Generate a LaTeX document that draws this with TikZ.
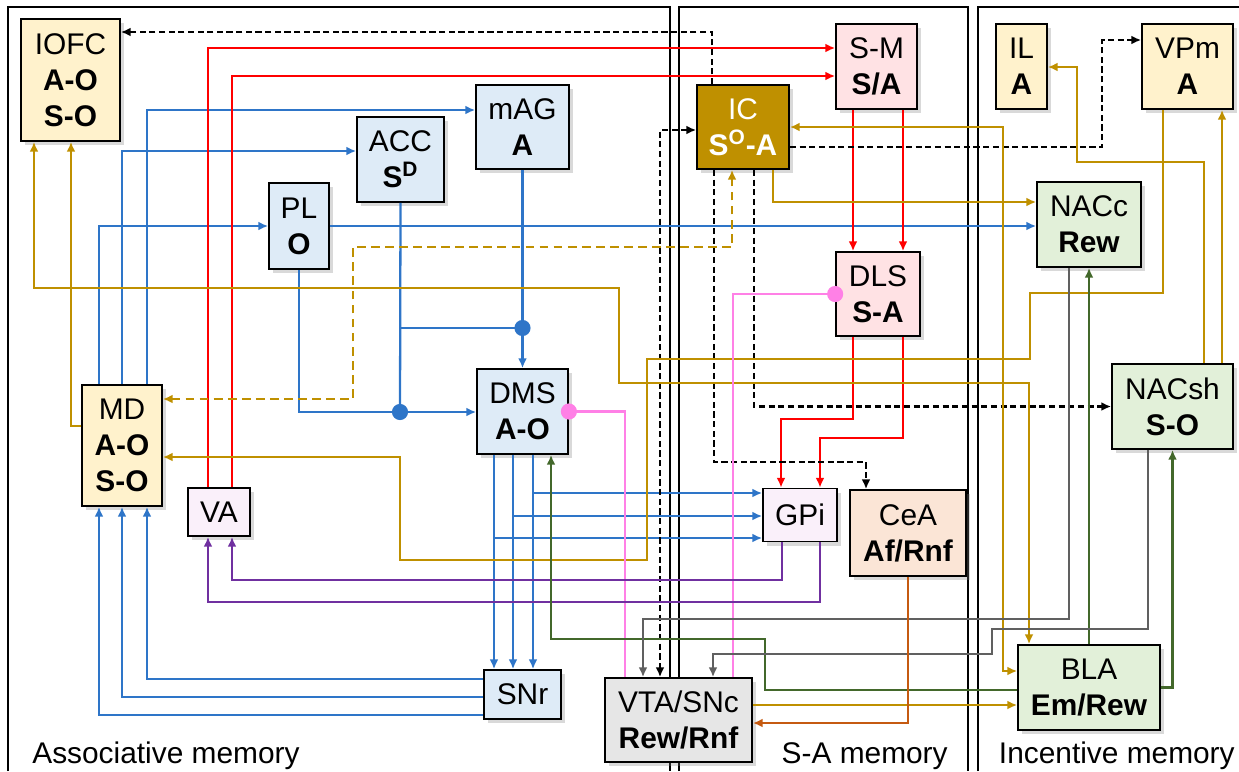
\documentclass[tikz,border=0pt]{standalone}
\usepackage{fontspec}
\setmainfont{Liberation Sans}
\usepackage{tikz}
\usetikzlibrary{arrows.meta}
\usetikzlibrary{shadows}

\definecolor{cBlue}{RGB}{46,117,200}
\definecolor{cGold}{RGB}{191,144,0}
\definecolor{cRed}{RGB}{255,0,0}
\definecolor{cPink}{RGB}{255,128,230}
\definecolor{cPurple}{RGB}{112,48,160}
\definecolor{cGreen}{RGB}{67,104,43}
\definecolor{cGray}{RGB}{96,96,96}
\definecolor{cOrange}{RGB}{197,90,17}
\definecolor{fYellow}{RGB}{255,242,204}
\definecolor{fBlue}{RGB}{222,235,247}
\definecolor{fPink}{RGB}{255,226,228}
\definecolor{fLilac}{RGB}{250,240,250}
\definecolor{fPeach}{RGB}{251,229,214}
\definecolor{fGreen}{RGB}{226,240,217}
\definecolor{fGray}{RGB}{230,230,230}

\newcommand{\boxfont}{\fontsize{17}{20.5}\selectfont}

\tikzset{
    area/.style 2 args={draw=black, line width=1pt, inner sep=0pt, align=center,
        minimum width=#1*0.02cm, minimum height=#2*0.02cm, font=\boxfont,
        drop shadow={shadow xshift=2.5pt, shadow yshift=-2.5pt, opacity=0.3}},
    memlabel/.style={inner sep=0pt, font=\boxfont},
    panel/.style={draw=black, line width=1pt},
    link/.style={line width=1.3pt},
    assocln/.style={link, cBlue},
    saln/.style={link, cRed},
    icln/.style={link, black, dash pattern=on 3.5pt off 2pt},
    goldln/.style={link, cGold},
    golddash/.style={link, cGold, dash pattern=on 5pt off 3pt},
    pinkln/.style={link, cPink},
    purpln/.style={link, cPurple},
    greenln/.style={link, cGreen},
    grayln/.style={link, cGray},
    orangeln/.style={link, cOrange},
}

\begin{document}
\begin{tikzpicture}[x=0.02cm, y=-0.02cm, >={Latex[length=5.5pt,width=5pt]}]
    \useasboundingbox (0,0) rectangle (1239,771);

    \draw[panel] (8,771) |- (670,7) -- (670,771);
    \draw[panel] (679,771) |- (968,7) -- (968,771);
    \draw[panel] (978,771) |- (1250,7);

    % associative memory
    \node[area={99}{122}, fill=fYellow] (IOFC) at (70.5,80) {IOFC\\\textbf{A-O}\\\textbf{S-O}};
    \node[area={87}{85}, fill=fBlue] (ACC) at (400.5,159.5) {ACC\\\textbf{S\textsuperscript{D}}};
    \node[area={60}{86}, fill=fBlue] (PL) at (299,226) {PL\\\textbf{O}};
    \node[area={93}{84}, fill=fBlue] (mAG) at (522.5,127) {mAG\\\textbf{A}};
    \node[area={80}{121}, fill=fYellow] (MD) at (122,445.5) {MD\\\textbf{A-O}\\\textbf{S-O}};
    \node[area={91}{85}, fill=fBlue] (DMS) at (522.5,411.5) {DMS\\\textbf{A-O}};
    \node[area={62}{48}, fill=fLilac] (VA) at (219,512) {VA};
    \node[area={77}{49}, fill=fBlue] (SNr) at (522.5,694.5) {SNr};
    \node[area={147}{84}, fill=fGray] (VTA) at (678.5,720) {VTA/SNc\\\textbf{Rew/Rnf}};

    % S-A memory
    \node[area={92}{84}, fill=cGold, text=white] (IC) at (743,127) {IC\\\textbf{S\textsuperscript{O}-A}};
    \node[area={81}{85}, fill=fPink] (SM) at (876.5,66.5) {S-M\\\textbf{S/A}};
    \node[area={84}{84}, fill=fPink] (DLS) at (878,294) {DLS\\\textbf{S-A}};
    \node[area={74}{53}, fill=fLilac] (GPi) at (800,515) {GPi};
    \node[area={116}{86}, fill=fPeach] (CeA) at (908,533) {CeA\\\textbf{Af/Rnf}};

    % incentive memory
    \node[area={51}{85}, fill=fYellow] (IL) at (1021.5,66.5) {IL\\\textbf{A}};
    \node[area={91}{85}, fill=fYellow] (VPm) at (1187.5,66.5) {VPm\\\textbf{A}};
    \node[area={104}{85}, fill=fGreen] (NACc) at (1089,224.5) {NACc\\\textbf{Rew}};
    \node[area={121}{85}, fill=fGreen] (NACsh) at (1172.5,406.5) {NACsh\\\textbf{S-O}};
    \node[area={142}{85}, fill=fGreen] (BLA) at (1089,687.5) {BLA\\\textbf{Em/Rew}};

    \node[memlabel, anchor=base west] (assoclabel) at (32,763) {Associative memory};
    \node[memlabel, anchor=base east] (salabel) at (948,763) {S-A memory};
    \node[memlabel, anchor=base east] (inclabel) at (1235,763) {Incentive memory};

    \coordinate (pldot) at (400,412);
    \coordinate (agdot) at (522.5,328);

    \draw[assocln,->] (MD.north -| 147,0) |- (mAG.west |- 0,110);
    \draw[assocln,->] (MD.north -| 122,0) |- (ACC.west |- 0,151);
    \draw[assocln,->] (MD.north -| 99,0) |- (PL.west);
    \draw[assocln,->] (SNr.west |- 0,679) -| (MD.south -| 147,0);
    \draw[assocln,->] (SNr.west |- 0,697) -| (MD.south -| 122,0);
    \draw[assocln,->] (SNr.west |- 0,715) -| (MD.south -| 99,0);
    \draw[assocln,->] (PL.east) -- (NACc.west |- PL.east);
    \draw[assocln,->] (PL.south) |- (pldot) -- (DMS.west |- pldot);
    \draw[assocln] (ACC.south) -- (pldot);
    \draw[assocln] (ACC.south |- agdot) -- (agdot);
    \draw[assocln,->] (mAG.south) -- (DMS.north);
    \foreach \x in {494,513,533}
        \draw[assocln,->] (DMS.south -| \x,0) -- (SNr.north -| \x,0);
    \draw[assocln,->] (DMS.south -| 533,0) |- (GPi.west |- 0,493);
    \draw[assocln,->] (DMS.south -| 513,0) |- (GPi.west |- 0,516);
    \draw[assocln,->] (DMS.south -| 494,0) |- (GPi.west |- 0,538);

    \draw[saln,->] (VA.north -| 208,0) |- (SM.west |- 0,48);
    \draw[saln,->] (VA.north -| 232,0) |- (SM.west |- 0,76);
    \draw[saln,->] (SM.south -| 853,0) -- (DLS.north -| 853,0);
    \draw[saln,->] (SM.south -| 903,0) -- (DLS.north -| 903,0);
    \draw[saln,->] (DLS.south -| 853,0) -- (853,419) -| (GPi.north -| 781,0);
    \draw[saln,->] (DLS.south -| 903,0) -- (903,438) -| (GPi.north -| 820,0);

    \draw[icln,->] (IC.north -| 712,0) |- (IOFC.east |- 0,32);
    \draw[icln,<->] (IC.west |- 0,130) -| (VTA.north -| 660,0);
    \draw[icln,->] (IC.south -| 714,0) -- (714,462) -| (CeA.north -| 866,0);
    \draw[icln,->] (IC.south -| 754,0) |- (NACsh.west);
    \draw[icln,->] (IC.east |- 0,147) -| (1102,40) -- (VPm.west |- 0,40);

    \draw[goldln,->] (MD.west |- 0,426) -| (IOFC.south -| 71,0);
    \draw[goldln,<->] (IOFC.south -| 34,0) |- (619,288) |- (1029,383) -- (BLA.north -| 1029,0);
    \draw[goldln,->] (VPm.south -| 1163,0) |- (1030,293) |- (647,359) |- (400,560) |- (MD.east |- 0,457);
    \draw[goldln,->] (NACsh.north -| 1222,0) -- (VPm.south -| 1222,0);
    \draw[goldln,->] (NACsh.north -| 1204,0) |- (1077,162) |- (IL.east |- 0,67);
    \draw[goldln,<->] (IC.east) -| (1003,671) -- (BLA.west |- 0,671);
    \draw[goldln,->] (IC.south -| 773,0) |- (NACc.west |- 0,202);
    \draw[goldln,->] (VTA.east |- 0,705) -- (BLA.west |- 0,705);
    \draw[golddash,<->] (MD.east |- 0,399) -| (353,247) -| (IC.south -| 732,0);

    \draw[pinkln] (VTA.north -| 625,0) |- (DMS.east);
    \draw[pinkln] (VTA.north -| 733,0) |- (DLS.west);

    \draw[purpln,->] (GPi.south -| 782,0) |- (232,580) -- (VA.south -| 232,0);
    \draw[purpln,->] (GPi.south -| 820,0) |- (208,602) -- (VA.south -| 208,0);

    \draw[greenln,->] (BLA.west |- 0,690) -| (765,639) -| (DMS.south -| 551,0);
    \draw[greenln,->] (BLA.north) -- (NACc.south);
    \draw[greenln,->] (BLA.east) -| (NACsh.south);

    \draw[grayln,->] (NACc.south -| 1069,0) |- (643,619) -- (VTA.north -| 643,0);
    \draw[grayln,->] (NACsh.south -| 1148,0) |- (992,629) |- (713,654) -- (VTA.north -| 713,0);

    \draw[orangeln,->] (CeA.south) |- (VTA.east |- 0,723);

    \fill[cBlue] (pldot) circle (4.6pt);
    \fill[cBlue] (agdot) circle (4.6pt);
    \fill[cPink] (DMS.east) circle (4.6pt) node (dmsdot) {};
    \fill[cPink] (DLS.west) circle (4.6pt) node (dlsdot) {};
\end{tikzpicture}
\end{document}
